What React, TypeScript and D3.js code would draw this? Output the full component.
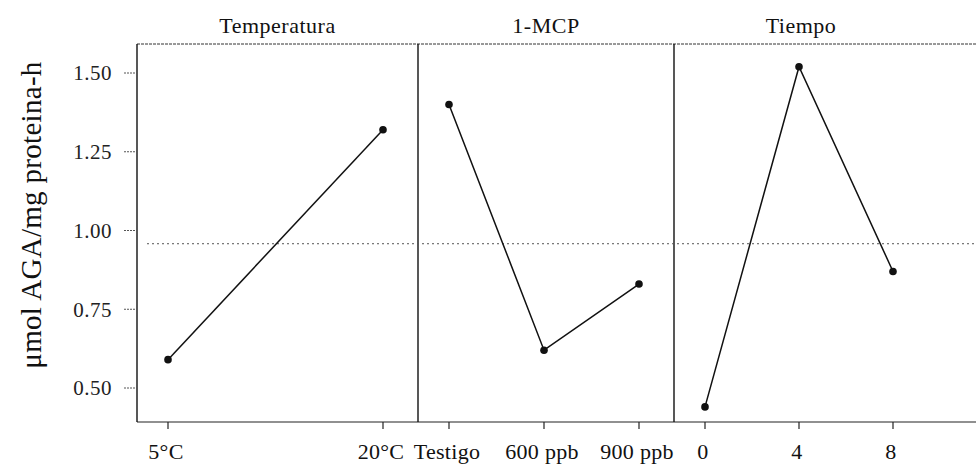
import React from 'react';
import * as d3 from 'd3';

const panelTitles = ['Temperatura', '1-MCP', 'Tiempo'];
const tempLevels = ['5°C', '20°C'];
const tempValues = [0.59, 1.32];
const mcpLevels = ['Testigo', '600 ppb', '900 ppb'];
const mcpValues = [1.4, 0.62, 0.83];
const timeLevels = ['0', '4', '8'];
const timeValues = [0.44, 1.52, 0.87];
const grandMean = 0.958;
const yTicks = [0.5, 0.75, 1.0, 1.25, 1.5];
const yLabel = 'μmol AGA/mg proteina-h';

const width = 976;
const height = 466;
const top = 44;
const bottom = 422;
const panelEdges = [137, 418, 674, 928];
const font = '"Liberation Serif", "Times New Roman", serif';

export default function App() {
  const y = d3.scaleLinear().domain([0.5, 1.5]).range([388, 73]);
  const series = [
    { levels: tempLevels, values: tempValues },
    { levels: mcpLevels, values: mcpValues },
    { levels: timeLevels, values: timeValues },
  ];

  const panels = series.map((s, i) => {
    const x0 = panelEdges[i];
    const x1 = panelEdges[i + 1];
    const x = d3.scalePoint<string>().domain(s.levels).range([x0 + 31, x1 - 35]);
    const pts = s.levels.map((l, j) => [x(l) as number, y(s.values[j])] as [number, number]);
    return { x0, x1, x, pts, title: panelTitles[i], levels: s.levels };
  });

  const line = d3.line();

  return (
    <svg width={width} height={height} style={{ position: 'absolute', left: 0, top: 0 }} fontFamily={font}>
      <rect width={width} height={height} fill="#fff" />
      {/* marco */}
      <line x1={panelEdges[0]} x2={width} y1={top} y2={top} stroke="#333" strokeWidth={1} strokeDasharray="3,1" />
      <line x1={panelEdges[0]} x2={width} y1={bottom} y2={bottom} stroke="#222" strokeWidth={1.2} />
      {panelEdges.slice(0, 3).map((e) => (
        <line key={e} x1={e} x2={e} y1={top} y2={bottom} stroke="#111" strokeWidth={1.4} />
      ))}
      {/* eje y */}
      {yTicks.map((t) => (
        <g key={t}>
          <line x1={124} x2={panelEdges[0]} y1={y(t)} y2={y(t)} stroke="#555" strokeWidth={1} strokeDasharray="2,1" />
          <text x={112} y={y(t)} dy="0.35em" textAnchor="end" fontSize={21} fill="#222" letterSpacing={0.5}>
            {t.toFixed(2)}
          </text>
        </g>
      ))}
      <text
        transform={`translate(41,215) rotate(-90)`}
        textAnchor="middle"
        fontSize={29}
        fill="#111"
        letterSpacing={0.3}
      >
        {yLabel}
      </text>
      {/* línea de la media */}
      <line
        x1={panelEdges[0] + 10}
        x2={width}
        y1={y(grandMean)}
        y2={y(grandMean)}
        stroke="#555"
        strokeWidth={1}
        strokeDasharray="2,3"
      />
      {panels.map((p) => (
        <g key={p.title}>
          <text x={(p.x0 + p.x1) / 2} y={33} textAnchor="middle" fontSize={22} fill="#111" letterSpacing={0.5}>
            {p.title}
          </text>
          {p.levels.map((l) => (
            <g key={l}>
              <line x1={p.x(l)} x2={p.x(l)} y1={bottom} y2={bottom + 7} stroke="#222" strokeWidth={1.2} />
              <text x={(p.x(l) as number) - 2} y={459} textAnchor="middle" fontSize={22} fill="#111" letterSpacing={0.3}>
                {l}
              </text>
            </g>
          ))}
          <path d={line(p.pts) || ''} fill="none" stroke="#111" strokeWidth={1.5} />
          {p.pts.map((d, j) => (
            <circle key={j} cx={d[0]} cy={d[1]} r={3.8} fill="#111" />
          ))}
        </g>
      ))}
    </svg>
  );
}
